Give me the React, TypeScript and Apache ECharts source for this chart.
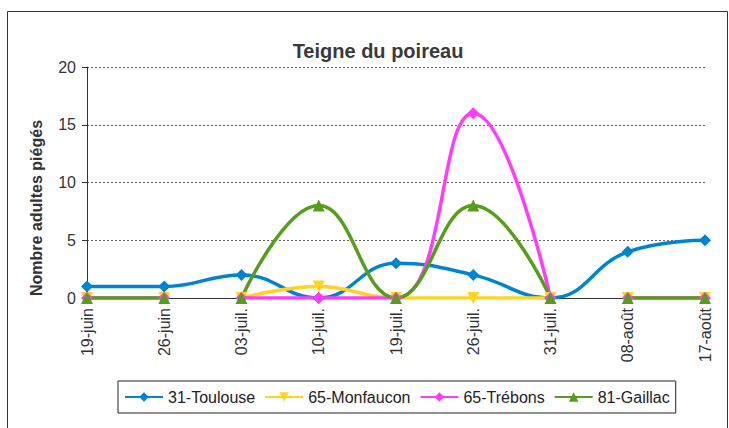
import React, { useEffect, useRef } from "react";
import * as echarts from "echarts";

const categories = ["19-juin", "26-juin", "03-juil.", "10-juil.", "19-juil.", "26-juil.", "31-juil.", "08-août", "17-août"];
const toulouse = [1, 1, 2, 0, 3, 2, 0, 4, 5];
const monfaucon = [0, 0, 0, 1, 0, 0, 0, 0, 0];
const trebons = [0, 0, 0, 0, 0, 16, 0, 0, 0];
const gaillac = [0, 0, 0, 8, 0, 8, 0, 0, 0];
// index ranges where lines are drawn continuously (gaps between them)
const segments = [[0, 1], [2, 6], [7, 8]];
const fullRange = [[0, 8]];
const yAxisTitle = "Nombre adultes piégés";

const seriesDefs = [
  { name: "31-Toulouse", data: toulouse, color: "#0084d1", symbol: "diamond", ranges: fullRange, size: 12 },
  { name: "65-Monfaucon", data: monfaucon, color: "#ffd320", symbol: "triangle", rotate: 180, ranges: segments, size: 12 },
  { name: "65-Trébons", data: trebons, color: "#ff3bff", symbol: "diamond", ranges: segments, size: 12 },
  { name: "81-Gaillac", data: gaillac, color: "#579d1c", symbol: "triangle", ranges: segments, size: 12 },
];

export default function App() {
  const ref = useRef<HTMLDivElement>(null);
  useEffect(() => {
    const chart = echarts.init(ref.current!, null, { renderer: "svg" });
    const series: any[] = [];
    seriesDefs.forEach((d) => {
      d.ranges.forEach(([a, b]) => {
        series.push({
          type: "line",
          name: d.name,
          data: d.data.map((v, i) => (i >= a && i <= b ? v : "-")),
          smooth: 0.45,
          symbol: d.symbol,
          symbolRotate: d.rotate || 0,
          symbolSize: d.size,
          showAllSymbol: true,
          lineStyle: { color: d.color, width: 3.5 },
          itemStyle: { color: d.color },
          connectNulls: false,
        });
      });
    });
    chart.setOption({
      animation: false,
      textStyle: { fontFamily: "Liberation Sans" },
      title: {
        text: "Teigne du poireau",
        left: 373,
        top: 36,
        textAlign: "center",
        textStyle: { fontSize: 20, fontWeight: "bold", color: "#3a3a3a", fontFamily: "Liberation Sans" },
      },
      graphic: [
        {
          type: "rect",
          shape: { x: 7.5, y: 11.5, width: 720, height: 440 },
          style: { fill: "none", stroke: "#333", lineWidth: 1 },
          silent: true,
        },
        {
          type: "text",
          x: 36,
          y: 208,
          rotation: Math.PI / 2,
          style: {
            text: yAxisTitle,
            fontSize: 16,
            fontWeight: "bold",
            fill: "#333",
            fontFamily: "Liberation Sans",
            align: "center",
            verticalAlign: "middle",
          },
          silent: true,
        },
      ],
      legend: {
        left: 118,
        top: 381,
        padding: [8, 6, 8, 6],
        borderColor: "#222",
        borderWidth: 1,
        itemGap: 9,
        itemWidth: 38,
        itemHeight: 12,
        textStyle: { fontSize: 16, color: "#222", fontFamily: "Liberation Sans" },
        data: seriesDefs.map((d) => ({ name: d.name })),
      },
      grid: { left: 87, right: 24, top: 67, bottom: 130, containLabel: false },
      xAxis: {
        type: "category",
        data: categories,
        boundaryGap: false,
        axisLine: { onZero: true, lineStyle: { color: "#333", width: 1 } },
        axisTick: { show: true, alignWithLabel: true, length: 5, lineStyle: { color: "#333" } },
        axisLabel: { rotate: 90, fontSize: 16, color: "#333", margin: 10, interval: 0 },
      },
      yAxis: {
        type: "value",
        min: 0,
        max: 20,
        interval: 5,
        axisLine: { show: true, lineStyle: { color: "#333" } },
        axisTick: { show: true, length: 5, lineStyle: { color: "#333" } },
        axisLabel: { fontSize: 16, color: "#333", margin: 11 },
        splitLine: { show: true, lineStyle: { color: "#666", type: [2, 2], width: 1 } },
      },
      series,
    });
    return () => chart.dispose();
  }, []);
  return <div ref={ref} style={{ width: 729, height: 428, position: "absolute", left: 0, top: 0 }} />;
}
